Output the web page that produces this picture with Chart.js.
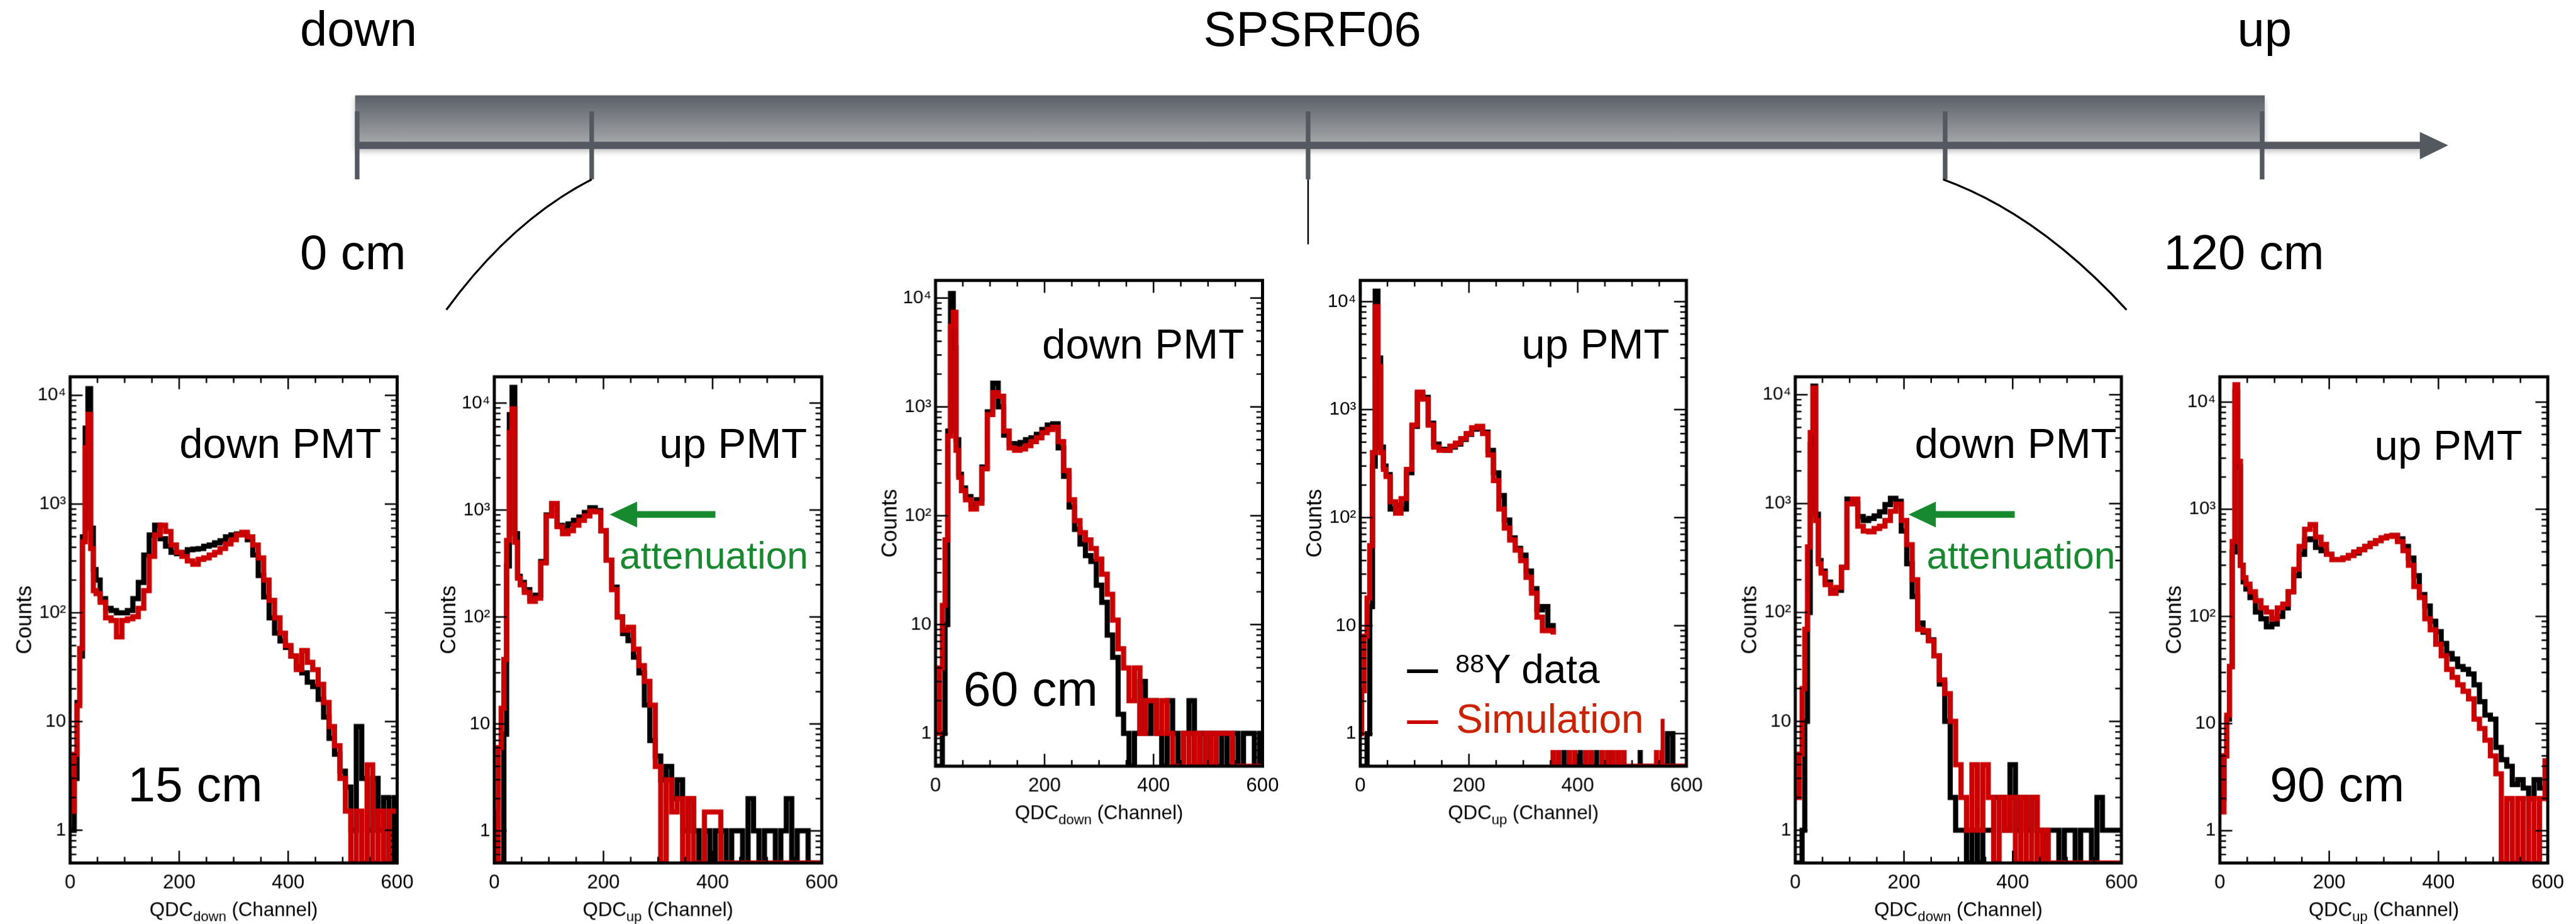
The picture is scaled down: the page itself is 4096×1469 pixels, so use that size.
<!DOCTYPE html>
<html lang="en">
<head>
  <meta charset="UTF-8"/>
  <title>SPSRF06 – QDC spectra along the bar</title>
  <script src="https://cdn.jsdelivr.net/npm/chart.js"></script>
  <style>
    html, body { margin: 0; padding: 0; background: #fff; overflow: hidden; }
    #stage {
      position: absolute; left: 0; top: 0;
      width: 4998px; height: 1793px;
      transform: scale(0.81953); transform-origin: 0 0;
      font-family: "Liberation Sans", Arial, sans-serif;
    }
    .panel { position: absolute; }
    #overlay { position: absolute; left: 0; top: 0; pointer-events: none; }
  </style>
</head>
<body>
<div id="stage">
  <svg id="overlay" width="4998" height="1793" viewBox="0 0 4998 1793"
       font-family="'Liberation Sans', Arial, sans-serif">
    <defs>
      <linearGradient id="barFill" x1="0" y1="0" x2="0" y2="1">
        <stop offset="0" stop-color="#5a5f67"/>
        <stop offset="1" stop-color="#a4a6a8"/>
      </linearGradient>
      <filter id="barShadow" x="-2%" y="-30%" width="104%" height="180%">
        <feDropShadow dx="0" dy="5" stdDeviation="5" flood-color="#000" flood-opacity="0.25"/>
      </filter>
    </defs>

    <!-- the bar and its axis -->
    <g filter="url(#barShadow)">
      <rect x="689" y="185" width="3705" height="92" fill="url(#barFill)"/>
      <rect x="689" y="275" width="4010" height="14" fill="#545960"/>
    </g>
    <polygon points="4695,256 4750,282 4695,309" fill="#545960"/>
    <g stroke="#545960" stroke-width="9">
      <line x1="693" y1="216" x2="693" y2="348"/>
      <line x1="1148" y1="216" x2="1148" y2="348"/>
      <line x1="2538" y1="216" x2="2538" y2="348"/>
      <line x1="3774" y1="216" x2="3774" y2="348"/>
      <line x1="4389" y1="216" x2="4389" y2="348"/>
    </g>
    <line x1="2538" y1="348" x2="2538" y2="474" stroke="#000" stroke-width="3"/>
    <path d="M1148,348 Q992,428 866,601" stroke="#000" stroke-width="4" fill="none"/>
    <path d="M3770,348 Q3955,415 4126,601" stroke="#000" stroke-width="4" fill="none"/>

    <text x="582" y="89" font-size="95">down</text>
    <text x="2335" y="89" font-size="95">SPSRF06</text>
    <text x="4341" y="89" font-size="95">up</text>
    <text x="582" y="522" font-size="95">0 cm</text>
    <text x="4198" y="522" font-size="95">120 cm</text>

    <!-- panel notes -->
    <text x="348" y="888" font-size="82">down PMT</text>
    <text x="248" y="1554" font-size="96">15 cm</text>

    <text x="1279" y="888" font-size="82">up PMT</text>
    <polygon points="1183,998 1236,973 1236,1023" fill="#17892f"/>
    <rect x="1230" y="991.5" width="158" height="13" fill="#17892f"/>
    <text x="1202" y="1103" font-size="74" fill="#17892f">attenuation</text>

    <text x="2022" y="695" font-size="82">down PMT</text>
    <text x="1869" y="1369" font-size="96">60 cm</text>

    <text x="2952" y="695" font-size="82">up PMT</text>
    <!-- legend box (white, hides the curves behind it) -->
    <rect x="2665" y="1231" width="557" height="224" fill="#fff"/>
    <line x1="2730" y1="1302" x2="2790" y2="1302" stroke="#000" stroke-width="7"/>
    <text x="2824" y="1325" font-size="78"><tspan font-size="50" dy="-21">88</tspan><tspan dy="21">Y data</tspan></text>
    <line x1="2730" y1="1401" x2="2790" y2="1401" stroke="#cc0000" stroke-width="7"/>
    <text x="2825" y="1421" font-size="78" fill="#cc2200">Simulation</text>

    <text x="3715" y="888" font-size="82">down PMT</text>
    <polygon points="3703,998 3756,973 3756,1023" fill="#17892f"/>
    <rect x="3750" y="991.5" width="159" height="13" fill="#17892f"/>
    <text x="3738" y="1103" font-size="74" fill="#17892f">attenuation</text>

    <text x="4607" y="892" font-size="82">up PMT</text>
    <text x="4404" y="1554" font-size="96">90 cm</text>
  </svg>
</div>
<script>
  // channel grid (bin centres), finer around the pedestal peak
  const channels = [0,5,10,15,20,25,30,35,40,45,50,
    60,70,80,90,100,110,120,130,140,150,
    160,170,180,190,200,210,220,230,240,250,
    260,270,280,290,300,310,320,330,340,350,
    360,370,380,390,400,410,420,430,440,450,
    460,470,480,490,500,510,520,530,540,550,
    560,570,580,590,600];

  // counts (0 = empty bin, drawn on the axis floor)
  const p1Data = [1,1,3,15,40,500,5000,11500,600,250,200,
    135,110,105,100,100,105,135,190,340,520,
    640,480,410,360,350,360,380,385,390,410,
    420,440,460,500,520,530,530,470,340,220,
    140,90,65,55,48,40,32,28,23,21,
    16,11,7,5,3.5,2.5,1,9,3,1,
    3,1,2,0,2];
  const p1Sim = [1.5,1.5,5,14,47,450,3300,6700,390,160,150,
    125,90,85,60,85,88,92,110,160,330,
    520,640,560,420,360,330,300,280,310,320,
    340,360,390,430,470,520,550,500,420,320,
    200,130,90,65,50,40,30,45,35,30,
    22,15,9,6,3,1.5,0,1.5,0,4,
    0,1.5,0,1.5,1.5];

  const p2Data = [0,0,0,0,8,300,7800,14000,600,240,210,
    180,150,160,330,900,1150,720,680,740,800,
    860,950,1050,990,640,340,190,100,70,60,
    42,30,15,7,5,3,4,2,3,1,
    2,1,0,1,0,1,1,0,1,1,
    0,2,1,0,1,1,0,1,2,0,
    1,1,0,0,0];
  const p2Sim = [1.5,0,6,14,40,520,5300,8800,500,230,200,
    170,140,150,320,880,1150,700,600,640,720,
    800,880,980,960,640,340,180,100,75,80,
    50,35,25,15,4,0,3,1.5,2,0,
    2,0,0,1.5,1.5,1.5,0,0,0,0,
    0,0,0,0,0,0,0,0,0,0,
    0,0,0,0,0];

  const p3Data = [0,0,0,1,10,600,11000,3500,500,240,180,
    150,125,140,280,900,1650,1000,550,460,450,
    470,500,520,560,620,680,700,420,230,120,
    75,55,43,38,23,16,8,5,1.5,1,
    0,1,3,1,2,1,0,2,1,0,
    1,2,0,1,0,1,0,1,0,1,
    0,1,1,0,1];
  const p3Sim = [1,1,4,15,60,540,5500,7400,400,225,170,
    140,115,130,270,850,1350,1250,600,420,400,
    410,440,480,520,580,620,650,480,260,140,
    90,70,60,50,40,29,19,11,6,4,
    2,4,1,2,2,1,2,1,0,0,
    1,0,1,0,1,0,1,1,1,0,
    0,0,0,0,0];

  const p4Data = [0,0,0,1,15,300,12500,3000,450,300,250,
    120,130,120,260,700,1400,1300,750,480,430,
    420,450,480,530,590,660,680,620,420,260,
    160,95,65,52,45,32,22,14,15,10,
    0,1,0,1,1,0,1,0,1,1,
    0,1,0,1,1,1,0,0,0,0,
    0,1,0,0,0];
  const p4Sim = [1,2.5,8,18,55,400,9000,2500,400,280,240,
    140,110,150,280,720,1450,1250,720,450,420,
    420,460,490,540,600,680,700,600,380,220,
    120,80,62,50,40,28,20,12,9,9,
    0,1,1,0,1,1,0,1,1,0,
    1,0,1,0,0,0,0,0,0,1.3,
    0,0,0,0,0];

  const p5Data = [0,0,0,1,10,100,3500,12000,800,300,240,
    190,160,160,260,1100,1000,760,700,730,770,
    840,980,1120,1050,560,280,140,80,66,56,
    40,22,10,2,1,1,0,1,0,1,
    1,2,2,1,4,1,2,1,2,1,
    0,1,1,0,1,1,0,1,1,0,
    2,1,1,1,1];
  const p5Sim = [2,2,5,20,70,400,4500,11500,700,280,230,
    180,150,170,260,1000,1100,620,560,550,590,
    620,700,850,990,700,420,200,70,68,55,
    40,24,18,10,4,2,1,4,1,4,
    2,0,2,1,2,0,2,0,2,0,
    1,0,0,0,0,0,0,0,0,0,
    0,0,0,0,0];

  const p6Data = [2,2,5,11,34,400,12500,2500,300,210,180,
    150,110,95,80,85,100,120,170,240,380,
    520,530,440,410,380,340,340,350,370,390,
    420,450,480,510,540,560,570,530,450,350,
    240,160,125,90,72,56,45,40,34,32,
    29,23,16,12,11,6,4.6,4,2.7,3,
    2.5,2,3,2.5,3];
  const p6Sim = [2.5,1.5,5,12,34,500,14500,2800,300,230,200,
    170,140,120,110,95,120,130,170,275,450,
    650,720,550,470,380,340,340,350,370,400,
    420,450,480,510,540,560,570,500,410,300,
    190,150,95,75,55,43,32,27,23,20,
    17,11,9,7,5,3.4,0,2,0,2,
    0,2,0,2,4.5];

  const decadeLabels = ['1', '10', '10²', '10³', '10⁴'];
  const xTickStep = 200;
  const yMin = 0.5;

  // plot boxes in reference pixels: [left, top, right, bottom]
  const panels = [
    { box: [136, 731, 770, 1674],  yMax: 1.48e4, data: p1Data, sim: p1Sim, sub: 'down' },
    { box: [959, 731, 1594, 1674], yMax: 1.76e4, data: p2Data, sim: p2Sim, sub: 'up' },
    { box: [1815, 544, 2449, 1486], yMax: 1.45e4, data: p3Data, sim: p3Sim, sub: 'down' },
    { box: [2639, 544, 3271, 1486], yMax: 1.57e4, data: p4Data, sim: p4Sim, sub: 'up' },
    { box: [3483, 731, 4115, 1674], yMax: 1.46e4, data: p5Data, sim: p5Sim, sub: 'down' },
    { box: [4307, 731, 4943, 1674], yMax: 1.72e4, data: p6Data, sim: p6Sim, sub: 'up' }
  ];

  const FONT = '"Liberation Sans", Arial, sans-serif';
  const PAD = { l: 150, t: 40, r: 50, b: 130 };

  // ROOT-style frame: ticks on all four sides, pointing inwards
  const frameTicks = {
    id: 'frameTicks',
    afterDatasetsDraw(chart, args, opts) {
      const { ctx, chartArea: a, scales: { x, y } } = chart;
      ctx.save();
      ctx.strokeStyle = '#000';
      ctx.lineWidth = 3;
      ctx.beginPath();
      for (let v = 0; v <= 600; v += 50) {
        const px = x.getPixelForValue(v);
        const len = v % 200 === 0 ? 24 : 12;
        ctx.moveTo(px, a.bottom); ctx.lineTo(px, a.bottom - len);
        ctx.moveTo(px, a.top); ctx.lineTo(px, a.top + len);
      }
      for (let e = -1; e <= 4; e++) {
        for (let m = 1; m < 10; m++) {
          const v = m * Math.pow(10, e);
          if (v < y.min || v > y.max) continue;
          const py = y.getPixelForValue(v);
          const len = m === 1 ? 24 : 12;
          ctx.moveTo(a.left, py); ctx.lineTo(a.left + len, py);
          ctx.moveTo(a.right, py); ctx.lineTo(a.right - len, py);
        }
      }
      ctx.stroke();
      ctx.lineWidth = 6;
      ctx.strokeRect(a.left, a.top, a.right - a.left, a.bottom - a.top);

      // x title with subscript
      ctx.fillStyle = '#000';
      ctx.textBaseline = 'alphabetic';
      const big = '38px ' + FONT, small = '27px ' + FONT;
      ctx.font = big;
      const w1 = ctx.measureText('QDC').width;
      const w3 = ctx.measureText(' (Channel)').width;
      ctx.font = small;
      const w2 = ctx.measureText(opts.sub).width;
      let sx = (a.left + a.right) / 2 - (w1 + w2 + w3) / 2;
      const by = a.bottom + 103;
      ctx.font = big;  ctx.fillText('QDC', sx, by);
      ctx.font = small; ctx.fillText(opts.sub, sx + w1, by + 10);
      ctx.font = big;  ctx.fillText(' (Channel)', sx + w1 + w2, by);

      // y title
      ctx.translate(a.left - 76, (a.top + a.bottom) / 2);
      ctx.rotate(-Math.PI / 2);
      ctx.textAlign = 'center';
      ctx.font = '42px "Liberation Sans Narrow", ' + FONT;
      ctx.fillText('Counts', 0, 0);
      ctx.restore();
    }
  };

  const stage = document.getElementById('stage');
  const overlay = document.getElementById('overlay');

  panels.forEach(p => {
    const [L, T, R, B] = p.box;
    const div = document.createElement('div');
    div.className = 'panel';
    div.style.left = (L - PAD.l) + 'px';
    div.style.top = (T - PAD.t) + 'px';
    div.style.width = (R - L + PAD.l + PAD.r) + 'px';
    div.style.height = (B - T + PAD.t + PAD.b) + 'px';
    const canvas = document.createElement('canvas');
    div.appendChild(canvas);
    stage.insertBefore(div, overlay);

    // empty bins sit on the axis floor, as in the ROOT drawing
    const pts = arr => channels.map((c, i) => ({ x: c, y: arr[i] > 0 ? arr[i] : yMin }));

    new Chart(canvas, {
      type: 'line',
      data: {
        datasets: [
          { label: 'Simulation', data: pts(p.sim), borderColor: '#cc0000' },
          { label: '88Y data', data: pts(p.data), borderColor: '#000000' }
        ]
      },
      options: {
        responsive: true,
        maintainAspectRatio: false,
        animation: false,
        devicePixelRatio: 4096 / 4998,
        layout: { padding: { left: 0, top: PAD.t, right: PAD.r, bottom: 0 } },
        elements: {
          line: { borderWidth: 10, stepped: 'middle', fill: false, tension: 0 },
          point: { radius: 0 }
        },
        plugins: {
          legend: { display: false },
          tooltip: { enabled: false },
          frameTicks: { sub: p.sub }
        },
        scales: {
          x: {
            type: 'linear', min: 0, max: 600,
            grid: { display: false, drawTicks: false },
            border: { display: false },
            ticks: { stepSize: xTickStep, maxRotation: 0, autoSkip: false,
                     padding: 16, color: '#000', font: { size: 38, family: FONT } },
            afterFit: s => { s.height = PAD.b; }
          },
          y: {
            type: 'logarithmic', min: yMin, max: p.yMax,
            grid: { display: false, drawTicks: false },
            border: { display: false },
            ticks: {
              autoSkip: false, padding: 8, color: '#000',
              font: { size: 36, family: FONT },
              callback: v => {
                const l = Math.log10(v);
                const r = Math.round(l);
                return Math.abs(l - r) < 1e-9 && r >= 0 && r < decadeLabels.length ? decadeLabels[r] : '';
              }
            },
            afterFit: s => { s.width = PAD.l; }
          }
        }
      },
      plugins: [frameTicks]
    });
  });
</script>
</body>
</html>
